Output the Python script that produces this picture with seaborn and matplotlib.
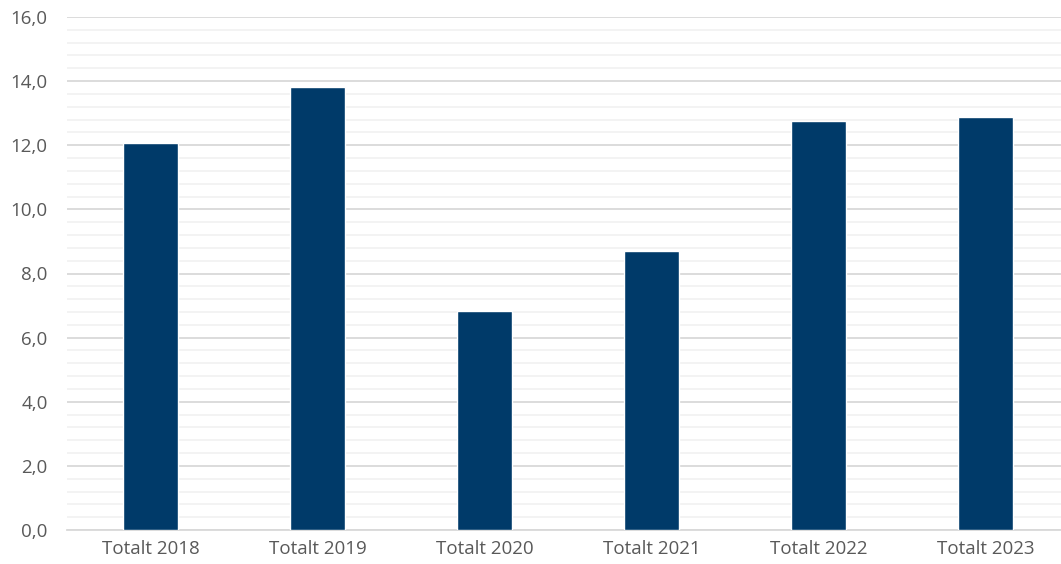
import matplotlib
matplotlib.use("Agg")
import matplotlib.pyplot as plt
import seaborn as sns
import pandas as pd
from matplotlib.ticker import MultipleLocator, FuncFormatter

categories = ["Totalt 2018", "Totalt 2019", "Totalt 2020", "Totalt 2021", "Totalt 2022", "Totalt 2023"]
values = [12.07, 13.83, 6.84, 8.70, 12.76, 12.89]

sns.set_theme(style="white")
plt.rcParams['font.family'] = ['Open Sans', 'DejaVu Sans']

df = pd.DataFrame({"cat": categories, "val": values})

fig = plt.figure(figsize=(10.61, 5.64), dpi=100)
ax = fig.add_axes([67/1061, 1 - 530/564, (1069 - 67)/1061, (530 - 17)/564])

sns.barplot(data=df, x="cat", y="val", color="#003A69", width=0.335, saturation=1, ax=ax, zorder=3)
ax.set_xlim(-0.5, 5.5)

ax.set_ylim(0, 16)
ax.yaxis.set_major_locator(MultipleLocator(2))
ax.yaxis.set_minor_locator(MultipleLocator(0.4))
ax.yaxis.set_major_formatter(FuncFormatter(lambda v, p: f"{v:.1f}".replace(".", ",")))
ax.grid(axis="y", which="major", color="#d9d9d9", linewidth=1.3, zorder=0)
ax.grid(axis="y", which="minor", color="#f2f2f2", linewidth=1.3, zorder=0)
ax.set_axisbelow(True)

for s in ["top", "right", "left"]:
    ax.spines[s].set_visible(False)
ax.spines["bottom"].set_color("#d9d9d9")
ax.spines["bottom"].set_linewidth(1.3)

ax.tick_params(axis="both", which="both", length=0, labelsize=13.5, colors="#595959")
ax.tick_params(axis="y", pad=14)
ax.tick_params(axis="x", pad=7)
ax.set_xlabel("")
ax.set_ylabel("")

fig.savefig("out.png", dpi=100)
